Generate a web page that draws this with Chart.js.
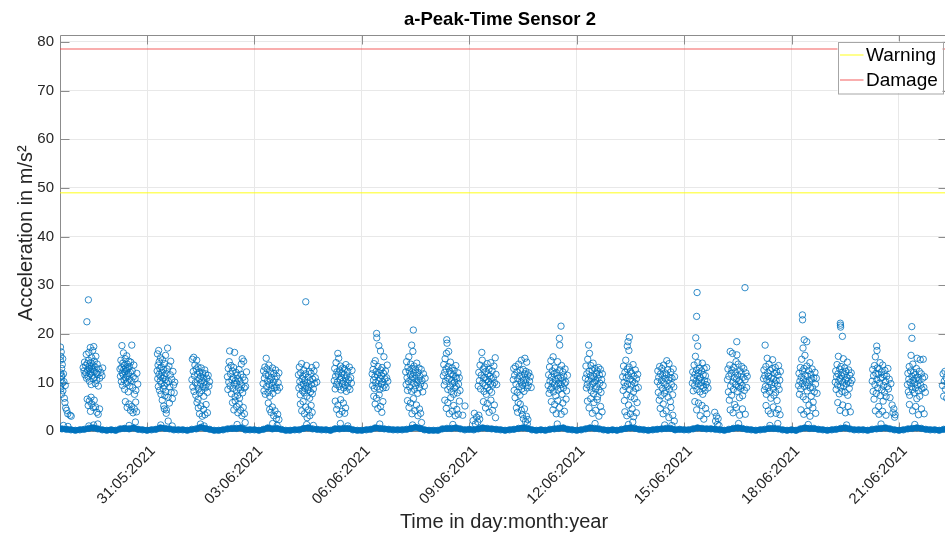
<!DOCTYPE html>
<html>
<head>
<meta charset="utf-8">
<script src="https://cdn.jsdelivr.net/npm/chart.js@4.4.0/dist/chart.umd.min.js"></script>
<style>
  html, body { margin: 0; padding: 0; background: #fff; overflow: hidden; }
  #wrap { width: 945px; height: 539px; overflow: hidden; }
  canvas { display: block; }
</style>
</head>
<body>
<div id="wrap"><canvas id="c" width="1000" height="539"></canvas></div>
<script>
// Time axis: days after 28.05.2021 00:00
const xStart = 0.57;
const xEnd = 25.37;
const tickDays = [3, 6, 9, 12, 15, 18, 21, 24];
const tickLabels = ['31:05:2021', '03:06:2021', '06:06:2021', '09:06:2021',
                    '12:06:2021', '15:06:2021', '18:06:2021', '21:06:2021'];
const yTickValues = [0, 10, 20, 30, 40, 50, 60, 70, 80];

// Alarm thresholds in m/s^2
const warningLevel = 49;
const damageLevel = 78.5;

// Peak acceleration bursts per day: [hour of day, m/s^2]
const may28 = [[14.0,17.3],[14.2,15.4],[13.9,14.6],[14.5,16.3],[14.8,12.9],[14.1,12.0],[15.0,11.4],[14.4,10.6],[15.3,9.9],[14.0,9.1],[15.6,8.3],[14.7,7.6],[16.0,11.8],[15.2,13.7],[16.3,10.2],[14.3,8.7],[16.6,6.8],[17.0,5.9],[17.5,4.8],[18.2,4.3],[18.9,3.6],[20.5,3.3],[21.2,3.1],[16.0,1.2],[19.0,1.0],[15.5,14.9],[14.6,11.2],[17.2,9.4]];
const may29 = [[5.2,13.1],[5.8,12.4],[6.1,14.2],[6.4,11.6],[6.8,13.5],[7.0,12.0],[7.3,15.8],[7.5,10.9],[7.7,22.5],[7.9,13.9],[8.2,12.6],[8.5,11.2],[8.7,27.0],[8.8,14.6],[9.0,16.2],[9.2,12.9],[9.4,10.3],[9.6,13.4],[9.8,11.8],[10.0,17.2],[10.2,12.2],[10.4,14.1],[10.6,9.6],[10.8,13.0],[11.0,15.1],[11.2,11.5],[11.4,12.7],[11.6,16.6],[11.8,13.6],[12.0,10.8],[12.3,17.4],[12.5,12.3],[12.7,14.4],[12.9,11.1],[13.2,13.2],[13.4,9.8],[13.7,15.4],[14.0,12.0],[14.3,10.5],[14.6,13.8],[15.0,11.7],[15.4,9.3],[15.8,12.8],[16.3,10.9],[17.0,12.1],[17.8,11.4],[18.3,13.0],[7.9,6.6],[8.6,5.3],[9.3,6.2],[10.1,4.1],[11.0,5.6],[11.9,4.9],[12.6,6.4],[13.5,5.0],[14.4,3.9],[15.3,3.5],[16.2,4.6],[10.5,7.0],[12.2,1.3],[9.0,1.1],[15.0,1.5]];
const may30 = [[5.9,12.8],[6.2,11.3],[6.5,14.6],[6.8,10.2],[7.0,13.1],[7.2,17.6],[7.4,12.0],[7.6,9.4],[7.8,14.0],[8.0,11.6],[8.2,16.1],[8.4,12.7],[8.6,10.6],[8.8,13.5],[9.0,8.6],[9.2,12.2],[9.4,14.9],[9.6,11.0],[9.8,13.0],[10.0,9.9],[10.2,12.5],[10.4,15.5],[10.6,11.4],[10.8,13.8],[11.0,10.1],[11.2,12.9],[11.4,8.1],[11.6,11.8],[11.8,14.4],[12.0,10.7],[12.2,13.3],[12.5,9.3],[12.8,12.1],[13.1,14.2],[13.4,10.4],[13.8,17.7],[14.1,12.4],[14.4,9.0],[14.8,11.2],[15.2,13.6],[15.6,7.6],[16.0,10.8],[16.5,8.4],[17.2,11.9],[17.8,9.7],[9.5,6.1],[10.7,4.9],[11.9,5.6],[12.9,4.3],[13.7,5.1],[14.6,3.8],[15.5,4.6],[16.4,6.0],[17.0,4.0],[12.0,1.2],[16.2,1.9]];
const may31 = [[6.8,12.4],[7.0,15.9],[7.2,10.8],[7.4,13.6],[7.6,9.2],[7.8,16.6],[8.0,11.7],[8.2,14.3],[8.4,8.4],[8.6,12.9],[8.8,10.3],[9.0,15.1],[9.2,11.2],[9.4,7.6],[9.6,13.2],[9.8,9.8],[10.0,12.1],[10.2,6.4],[10.4,14.7],[10.6,10.9],[10.8,8.8],[11.0,12.6],[11.2,5.2],[11.4,11.4],[11.6,9.4],[11.8,13.9],[12.0,7.3],[12.2,10.6],[12.4,15.6],[12.6,8.1],[12.8,11.9],[13.0,4.4],[13.2,9.9],[13.5,12.8],[13.8,17.1],[14.1,7.0],[14.4,10.2],[14.7,13.4],[15.0,5.8],[15.3,9.1],[15.6,11.6],[15.9,14.4],[16.2,8.0],[16.6,10.7],[17.0,6.7],[17.4,12.3],[17.8,9.5],[18.2,7.9],[18.6,10.1],[12.9,3.7],[11.6,4.6],[14.2,2.1],[9.2,1.3],[16.9,1.1]];
const jun01 = [[6.1,10.6],[6.4,14.8],[6.7,9.1],[7.0,12.3],[7.3,15.2],[7.5,8.2],[7.8,11.4],[8.1,13.6],[8.4,10.0],[8.7,7.4],[9.0,12.8],[9.3,14.6],[9.6,9.5],[9.9,11.7],[10.2,13.2],[10.5,8.7],[10.8,10.8],[11.1,12.2],[11.4,7.9],[11.7,9.9],[12.0,11.3],[12.3,13.0],[12.6,8.4],[12.9,10.4],[13.2,12.0],[13.5,9.2],[13.8,11.0],[14.1,7.2],[14.4,10.1],[14.7,12.6],[15.0,8.9],[15.3,11.8],[15.7,9.6],[16.1,10.9],[16.5,8.0],[17.0,11.5],[17.5,9.3],[17.9,10.2],[9.5,5.9],[10.4,4.8],[11.2,3.6],[12.1,5.2],[13.0,3.1],[13.9,4.5],[14.8,3.4],[15.6,5.5],[16.5,3.8],[11.8,1.5],[14.3,1.1],[10.2,6.6]];
const jun02 = [[5.9,11.2],[6.2,8.6],[6.5,12.9],[6.8,10.1],[7.1,14.3],[7.4,16.5],[7.7,9.3],[8.0,11.8],[8.3,13.5],[8.6,7.7],[8.9,10.6],[9.2,12.4],[9.5,8.8],[9.8,11.0],[10.1,13.1],[10.4,9.7],[10.7,16.2],[11.0,7.1],[11.3,10.4],[11.6,12.1],[11.9,8.3],[12.2,9.9],[12.5,11.5],[12.8,7.4],[13.1,10.8],[13.4,9.0],[13.7,12.7],[14.0,6.8],[14.3,10.3],[14.6,8.5],[14.9,11.7],[15.2,13.8],[15.5,9.5],[15.8,14.9],[16.1,7.9],[16.4,11.1],[16.8,14.4],[17.2,8.9],[17.6,10.5],[18.1,9.2],[18.7,12.2],[9.3,5.9],[10.2,4.4],[11.1,6.2],[12.0,5.1],[12.9,3.8],[13.8,5.6],[14.7,4.3],[15.6,3.2],[16.5,4.9],[17.3,3.6],[12.4,1.4],[17.8,1.8]];
const jun03 = [[5.8,9.8],[6.1,12.4],[6.4,8.3],[6.7,10.9],[7.0,13.2],[7.3,7.6],[7.6,11.7],[7.9,15.0],[8.2,9.2],[8.5,12.8],[8.8,10.3],[9.1,8.0],[9.4,11.4],[9.7,13.6],[10.0,9.6],[10.3,7.2],[10.6,10.6],[10.9,12.2],[11.2,8.7],[11.5,11.0],[11.8,9.4],[12.1,13.0],[12.4,7.8],[12.7,10.1],[13.0,11.9],[13.4,8.9],[13.8,10.7],[14.2,12.6],[14.6,9.1],[15.0,11.3],[15.4,8.4],[15.9,10.0],[16.4,12.0],[16.9,9.0],[9.3,5.8],[10.2,4.5],[11.1,3.9],[12.0,5.0],[12.9,3.2],[13.8,4.2],[14.7,2.6],[15.6,3.5],[16.4,2.4],[12.2,1.6],[15.2,1.2]];
const jun04 = [[5.5,11.6],[5.8,8.9],[6.1,13.2],[6.4,10.2],[6.7,7.5],[7.0,12.0],[7.3,9.4],[7.6,13.9],[7.9,10.8],[8.2,8.3],[8.5,11.3],[8.8,9.7],[9.1,12.6],[9.4,7.9],[9.7,10.5],[10.0,8.8],[10.4,26.6],[10.3,11.8],[10.6,9.3],[10.9,13.5],[11.2,7.2],[11.5,10.0],[11.8,8.5],[12.1,11.1],[12.4,9.0],[12.7,12.3],[13.0,6.8],[13.3,10.4],[13.6,8.1],[13.9,11.9],[14.2,9.6],[14.5,13.1],[14.8,7.7],[15.1,10.7],[15.5,8.7],[15.9,12.4],[16.3,9.8],[16.8,11.0],[17.3,13.6],[17.8,10.1],[6.8,5.6],[7.7,4.2],[8.6,6.1],[9.5,3.6],[10.4,5.0],[11.3,2.8],[12.2,4.4],[13.1,3.2],[14.0,5.3],[14.7,3.9],[11.0,1.4],[15.5,1.2]];
const jun05 = [[5.5,10.4],[5.8,12.9],[6.1,8.7],[6.4,11.3],[6.7,14.1],[7.0,9.6],[7.3,12.2],[7.6,10.1],[7.9,16.0],[8.2,11.7],[8.5,15.0],[8.8,9.2],[9.1,12.6],[9.4,10.7],[9.7,13.4],[10.0,8.5],[10.3,11.1],[10.6,12.0],[10.9,9.8],[11.2,13.0],[11.5,10.3],[11.8,8.9],[12.1,11.6],[12.4,12.8],[12.7,9.5],[13.0,10.9],[13.3,13.7],[13.6,8.2],[13.9,11.4],[14.2,10.0],[14.5,12.3],[14.8,9.1],[15.2,10.6],[15.6,13.2],[16.0,8.6],[16.5,11.0],[17.0,9.9],[17.4,12.5],[6.2,6.2],[7.1,4.5],[8.0,5.4],[8.9,3.5],[9.8,6.5],[10.7,4.1],[11.6,5.8],[12.5,3.7],[13.1,4.8],[9.6,1.6],[14.6,1.1]];
const jun06 = [[6.9,11.8],[7.2,9.4],[7.5,12.7],[7.8,10.5],[8.1,13.9],[8.4,8.8],[8.7,11.2],[9.0,14.5],[9.3,10.0],[9.6,12.3],[9.9,20.1],[10.0,19.2],[10.2,9.1],[10.5,11.6],[10.8,13.3],[11.1,10.4],[11.4,17.6],[11.6,12.0],[11.9,8.6],[12.2,10.9],[12.5,16.5],[12.7,12.6],[13.0,9.7],[13.3,11.4],[13.6,13.1],[13.9,10.2],[14.2,8.9],[14.5,11.9],[14.8,15.3],[15.1,9.5],[15.4,10.8],[15.8,12.4],[16.2,9.0],[16.6,11.0],[17.0,13.6],[17.4,10.3],[8.0,7.2],[8.9,5.6],[9.8,6.8],[10.7,4.7],[11.6,7.5],[12.5,5.1],[13.4,3.9],[14.1,6.1],[12.0,1.5]];
const jun07 = [[5.4,12.2],[5.7,9.6],[6.0,14.3],[6.3,11.0],[6.6,8.4],[6.9,13.1],[7.2,10.2],[7.5,15.3],[7.8,12.4],[8.1,9.1],[8.4,11.6],[8.7,13.8],[9.0,10.7],[9.4,17.7],[9.3,8.2],[9.6,12.9],[9.9,11.2],[10.2,16.4],[10.5,20.8],[10.4,9.9],[10.7,12.0],[11.0,13.4],[11.3,8.6],[11.6,10.8],[11.9,12.6],[12.2,9.4],[12.5,11.5],[12.8,14.0],[13.1,10.0],[13.4,7.8],[13.7,12.1],[14.0,10.5],[14.3,13.0],[14.6,8.9],[15.0,11.3],[15.4,9.7],[15.8,12.7],[16.3,10.4],[16.8,8.1],[17.3,11.8],[17.9,9.3],[18.4,10.9],[6.6,6.3],[7.6,4.9],[8.6,5.8],[9.6,3.6],[10.6,6.7],[11.6,4.2],[12.6,5.4],[13.6,3.2],[14.6,4.6],[15.4,3.7],[10.0,1.3],[16.0,1.8]];
const jun08 = [[6.6,11.4],[6.9,13.7],[7.2,9.5],[7.5,12.1],[7.8,14.9],[8.1,10.3],[8.4,12.8],[8.7,16.0],[8.9,18.8],[9.1,18.1],[9.3,11.0],[9.6,8.6],[9.9,13.3],[10.2,16.4],[10.5,10.7],[10.8,12.4],[11.1,9.1],[11.4,14.2],[11.7,11.8],[12.0,8.2],[12.3,10.5],[12.6,13.0],[12.9,9.8],[13.2,11.6],[13.5,7.6],[13.8,12.5],[14.1,10.1],[14.4,8.9],[14.7,11.2],[15.0,13.5],[15.3,9.3],[15.6,10.9],[16.0,7.9],[16.4,12.0],[16.8,9.7],[17.3,11.0],[17.8,8.4],[7.6,6.4],[8.6,4.7],[9.6,5.9],[10.6,3.6],[11.6,6.9],[12.6,4.1],[13.6,5.3],[14.6,3.2],[15.6,4.5],[16.6,3.5],[17.4,6.2],[19.6,3.3],[21.1,5.2],[13.0,1.4]];
const jun09 = [[2.6,2.2],[3.4,3.7],[4.1,1.5],[4.9,2.9],[5.7,1.9],[6.4,3.3],[7.0,2.5],[6.0,9.3],[6.4,12.1],[6.8,10.4],[7.2,13.6],[7.6,8.7],[8.0,11.5],[8.4,16.2],[8.7,14.6],[9.0,9.9],[9.3,12.8],[9.6,10.9],[9.9,8.2],[10.2,13.2],[10.5,11.1],[10.8,9.4],[11.1,12.3],[11.4,7.6],[11.7,10.6],[12.0,13.9],[12.3,9.0],[12.6,11.8],[12.9,10.2],[13.2,12.7],[13.5,8.4],[13.8,11.3],[14.1,9.7],[14.4,14.1],[14.7,10.8],[15.0,8.0],[15.3,12.4],[15.7,9.5],[16.1,11.0],[16.5,13.4],[16.9,10.0],[17.4,15.1],[17.9,11.7],[18.4,9.6],[9.5,6.1],[10.9,4.8],[12.1,5.7],[13.3,3.9],[14.5,6.4],[15.6,4.3],[16.8,5.4],[17.6,2.8]];
const jun10 = [[5.5,10.6],[5.8,12.9],[6.1,8.4],[6.4,11.5],[6.7,6.9],[7.0,13.3],[7.3,9.7],[7.6,4.8],[7.9,12.2],[8.2,8.0],[8.5,10.8],[8.8,5.9],[9.1,13.8],[9.4,9.2],[9.7,11.4],[10.0,7.4],[10.3,12.5],[10.6,10.1],[10.9,14.6],[11.2,8.7],[11.5,11.0],[11.8,9.5],[12.1,12.7],[12.4,10.4],[12.7,8.2],[13.0,11.8],[13.3,15.0],[13.6,9.9],[13.9,12.3],[14.2,10.7],[14.5,14.2],[14.8,8.9],[15.1,11.6],[15.5,9.4],[15.9,12.0],[16.4,10.3],[16.9,11.2],[17.5,9.0],[10.2,5.6],[10.9,4.3],[11.6,3.4],[12.3,2.6],[13.0,4.6],[13.7,2.0],[14.3,3.1],[14.9,1.5],[15.3,2.4],[8.4,3.9]];
const jun11 = [[4.9,9.4],[5.2,11.6],[5.5,7.8],[5.8,13.2],[6.1,10.3],[6.4,8.6],[6.7,14.5],[7.0,11.1],[7.3,9.0],[7.6,12.4],[7.9,10.0],[8.2,15.3],[8.5,8.1],[8.8,11.8],[9.1,9.7],[9.4,13.0],[9.7,10.6],[10.0,7.3],[10.3,12.1],[10.6,9.3],[10.9,11.4],[11.2,14.3],[11.5,8.5],[11.8,10.9],[12.1,9.9],[12.4,19.1],[12.6,17.7],[12.7,12.6],[13.0,8.8],[13.5,21.6],[13.3,11.0],[13.6,9.6],[13.9,13.5],[14.2,7.6],[14.5,10.4],[14.8,12.2],[15.1,8.9],[15.4,11.3],[15.8,9.8],[16.2,12.8],[16.7,10.1],[17.2,8.3],[17.8,11.5],[7.0,6.1],[8.1,4.4],[9.2,5.5],[10.3,3.6],[11.4,6.3],[12.5,4.9],[13.6,3.5],[14.7,5.8],[15.8,4.1],[16.9,6.6],[11.0,1.5]];
const jun12 = [[5.9,10.9],[6.2,13.4],[6.5,8.9],[6.8,11.8],[7.1,9.6],[7.4,14.8],[7.7,10.5],[8.0,17.7],[8.3,12.3],[8.6,16.0],[8.9,9.1],[9.2,11.4],[9.5,13.5],[9.8,8.3],[10.1,10.8],[10.4,12.6],[10.7,9.8],[11.0,14.0],[11.3,7.7],[11.6,11.2],[11.9,10.1],[12.2,12.9],[12.5,8.7],[12.8,10.4],[13.1,11.9],[13.4,9.2],[13.7,12.4],[14.0,7.1],[14.3,10.9],[14.6,13.1],[14.9,8.5],[15.2,11.6],[15.5,9.9],[15.9,12.7],[16.3,8.0],[16.7,10.6],[17.2,11.8],[17.7,9.4],[7.2,6.2],[8.3,4.8],[9.4,6.7],[10.5,3.7],[11.6,5.9],[12.7,4.3],[13.8,6.5],[14.9,3.1],[16.0,5.1],[17.0,4.0],[12.3,1.6]];
const jun13 = [[6.8,11.2],[7.1,8.4],[7.4,13.4],[7.7,10.0],[8.0,6.3],[8.3,12.1],[8.6,9.2],[8.9,14.6],[9.2,11.0],[9.5,7.5],[9.9,17.5],[9.8,12.8],[10.1,9.7],[10.4,18.4],[10.5,11.5],[10.8,5.4],[11.0,16.6],[11.3,19.3],[11.1,13.2],[11.4,8.6],[11.7,10.7],[12.0,12.3],[12.3,7.1],[12.6,9.5],[12.9,11.9],[13.2,4.6],[13.5,10.3],[13.8,13.7],[14.1,8.1],[14.4,11.3],[14.7,6.7],[15.0,9.9],[15.3,12.6],[15.7,8.8],[16.1,10.8],[16.5,5.9],[16.9,11.7],[17.3,9.0],[8.3,4.0],[9.6,3.2],[12.0,3.6],[14.2,3.0],[16.0,3.8],[10.7,1.4],[13.6,1.9]];
const jun14 = [[6.1,10.2],[6.4,12.4],[6.7,8.0],[7.0,11.1],[7.3,6.4],[7.6,13.3],[7.9,9.5],[8.2,11.8],[8.5,7.3],[8.8,10.4],[9.1,12.9],[9.4,8.8],[9.7,11.4],[10.0,5.6],[10.3,13.6],[10.6,9.9],[10.9,7.8],[11.2,12.0],[11.5,10.8],[11.8,8.4],[12.1,11.7],[12.4,14.5],[12.7,9.2],[13.0,12.6],[13.3,7.0],[13.6,10.5],[13.9,13.9],[14.2,8.7],[14.5,11.0],[14.8,6.1],[15.1,12.2],[15.5,9.6],[15.9,10.9],[16.3,7.5],[16.7,12.8],[17.1,9.1],[17.6,11.2],[8.0,4.7],[9.9,3.6],[12.0,4.2],[13.8,2.8],[15.2,4.9],[16.4,3.3],[17.4,2.1],[15.8,1.2],[11.0,1.3]];
const jun15 = [[5.5,9.9],[5.8,12.2],[6.1,8.3],[6.4,10.9],[6.7,13.6],[7.0,9.4],[7.3,11.7],[7.6,15.4],[7.8,19.2],[8.0,10.3],[8.3,12.6],[8.4,23.6],[8.7,28.5],[8.6,8.6],[8.9,11.3],[9.1,17.5],[9.2,14.1],[9.5,9.8],[9.8,12.0],[10.1,10.6],[10.4,13.0],[10.7,8.1],[11.0,11.0],[11.3,9.3],[11.6,12.4],[11.9,10.0],[12.2,14.0],[12.5,7.6],[12.8,11.6],[13.1,9.0],[13.4,12.9],[13.7,10.4],[14.0,8.4],[14.3,11.4],[14.7,9.6],[15.1,13.1],[15.5,10.2],[16.0,8.9],[7.2,6.1],[8.4,4.4],[9.6,5.8],[10.8,3.2],[12.0,5.3],[13.2,2.5],[14.4,4.7],[15.3,3.6],[20.5,3.9],[21.1,2.1],[21.7,3.1],[22.3,1.4],[22.8,2.6],[23.4,1.2]];
const jun16 = [[5.1,10.6],[5.4,12.8],[5.7,8.1],[6.0,11.3],[6.3,6.4],[6.6,13.6],[6.9,16.4],[7.2,9.3],[7.5,11.9],[7.8,7.4],[8.1,12.6],[8.4,16.0],[8.7,10.1],[9.0,8.6],[9.3,13.1],[9.6,11.0],[9.9,5.5],[10.2,12.2],[10.5,9.6],[10.8,14.3],[11.1,10.7],[11.3,18.4],[11.4,15.7],[11.6,8.2],[11.9,11.5],[12.2,13.8],[12.5,9.1],[12.8,10.4],[13.1,6.9],[13.4,12.4],[13.7,10.0],[14.0,8.8],[14.3,11.8],[14.6,13.3],[14.9,9.4],[15.2,7.3],[15.6,11.1],[16.0,12.9],[16.4,8.4],[16.8,29.5],[16.9,10.6],[17.4,12.0],[17.9,9.0],[18.3,11.3],[6.9,4.4],[8.8,3.8],[11.0,4.9],[13.2,3.3],[15.1,4.6],[17.0,3.5],[12.5,1.6]];
const jun17 = [[5.2,10.8],[5.5,12.6],[5.8,8.5],[6.1,11.4],[6.3,17.7],[6.5,9.2],[6.8,13.3],[7.1,7.6],[7.4,10.6],[7.7,15.0],[8.0,12.0],[8.3,9.0],[8.6,11.3],[8.9,13.8],[9.2,8.2],[9.5,10.2],[9.8,12.5],[10.1,6.8],[10.4,11.0],[10.7,9.6],[11.0,12.9],[11.3,14.7],[11.6,8.8],[11.9,10.8],[12.2,7.4],[12.5,11.9],[12.8,9.9],[13.1,13.1],[13.4,8.0],[13.7,10.4],[14.0,12.2],[14.3,6.3],[14.6,9.4],[14.9,11.5],[15.3,13.5],[15.7,8.6],[16.1,10.5],[16.5,12.3],[6.9,5.3],[8.4,4.2],[10.0,3.6],[11.8,5.0],[13.6,3.7],[15.0,4.5],[16.3,3.4],[9.5,1.2],[14.8,1.6]];
const jun18 = [[4.7,9.4],[5.0,11.9],[5.3,7.6],[5.6,10.3],[5.9,13.1],[6.2,8.7],[6.5,11.1],[6.8,14.8],[7.1,9.8],[7.3,23.9],[7.4,22.9],[7.4,12.4],[7.7,17.1],[7.8,7.1],[8.1,10.7],[8.5,18.8],[8.4,12.9],[8.7,9.2],[9.0,15.6],[9.3,11.5],[9.6,6.5],[9.9,10.0],[10.2,18.4],[10.3,13.4],[10.5,8.3],[10.8,11.3],[11.1,9.5],[11.4,12.5],[11.7,5.4],[12.0,10.4],[12.3,14.1],[12.6,8.9],[12.9,11.7],[13.2,7.2],[13.5,10.8],[13.8,12.8],[14.1,9.0],[14.5,6.0],[14.9,11.0],[15.3,8.1],[15.7,12.1],[16.1,9.7],[16.6,10.9],[17.1,7.8],[6.3,4.4],[8.2,3.5],[10.4,4.1],[12.4,3.1],[14.3,4.8],[16.2,3.7],[11.2,1.4]];
const jun19 = [[5.3,10.1],[5.6,12.4],[5.9,8.6],[6.2,11.2],[6.5,13.7],[6.8,9.5],[7.1,11.8],[7.4,15.4],[7.7,10.4],[8.0,7.7],[8.3,12.8],[8.7,22.2],[8.8,21.8],[8.9,21.4],[8.6,10.9],[8.9,9.1],[9.2,13.3],[9.5,11.4],[9.8,8.2],[10.1,19.5],[10.1,12.1],[10.4,10.0],[10.7,14.9],[11.0,9.3],[11.3,11.6],[11.6,13.0],[11.9,8.0],[12.2,10.6],[12.5,12.3],[12.8,9.7],[13.1,11.0],[13.4,14.2],[13.7,7.4],[14.0,10.3],[14.3,12.6],[14.7,8.8],[15.1,11.5],[15.5,9.9],[16.0,12.0],[16.5,10.5],[7.0,5.9],[8.5,4.3],[10.3,5.4],[12.1,3.8],[13.9,5.1],[15.4,4.0],[12.9,1.3]];
const jun20 = [[6.1,10.3],[6.4,12.7],[6.7,8.2],[7.0,11.4],[7.3,6.6],[7.6,13.5],[7.9,9.6],[8.2,15.3],[8.5,11.9],[8.8,7.8],[9.1,17.5],[9.3,16.6],[9.2,10.6],[9.5,13.0],[9.8,8.9],[10.1,11.7],[10.4,5.1],[10.7,12.8],[11.0,9.9],[11.3,14.1],[11.6,7.3],[11.9,10.9],[12.2,12.2],[12.5,8.5],[12.8,11.1],[13.1,13.6],[13.4,6.2],[13.7,9.4],[14.0,11.6],[14.3,8.0],[14.6,12.5],[15.0,10.2],[15.4,7.1],[15.8,11.3],[16.2,9.2],[16.6,12.9],[17.0,8.7],[17.5,10.7],[18.0,6.9],[18.6,9.8],[19.4,5.4],[20.0,3.8],[20.6,4.6],[21.1,2.9],[21.4,3.4],[8.2,4.2],[10.6,3.5],[13.0,4.1],[15.3,3.3],[12.0,1.5]];
const jun21 = [[5.7,9.6],[6.0,11.9],[6.3,8.1],[6.6,10.7],[6.9,13.3],[7.2,7.4],[7.5,10.0],[7.8,12.4],[8.1,15.6],[8.4,9.2],[8.6,21.5],[8.7,19.1],[8.7,11.3],[9.0,8.6],[9.3,13.8],[9.6,10.5],[9.9,12.1],[10.2,7.9],[10.5,9.9],[10.8,11.6],[11.1,8.9],[11.4,10.8],[11.7,12.9],[12.0,6.7],[12.2,15.0],[12.4,9.6],[12.7,11.1],[13.0,8.3],[13.3,10.4],[13.6,12.3],[13.9,7.2],[14.3,14.7],[14.6,9.5],[15.0,11.8],[15.4,8.7],[15.9,10.9],[16.3,14.8],[16.7,9.0],[17.2,11.2],[17.7,8.0],[7.0,5.5],[9.1,4.2],[11.2,5.1],[13.1,3.4],[15.1,4.6],[16.9,3.6],[10.6,1.4]];
const jun22 = [[5.2,9.4],[5.6,11.8],[6.0,7.2],[6.4,10.3],[6.8,12.3],[7.2,8.6],[7.6,11.0],[8.0,6.8],[8.4,9.9],[8.8,12.0],[9.2,8.1],[9.6,10.6]];

const dailyBursts = [may28, may29, may30, may31, jun01, jun02, jun03, jun04, jun05,
                     jun06, jun07, jun08, jun09, jun10, jun11, jun12, jun13, jun14,
                     jun15, jun16, jun17, jun18, jun19, jun20, jun21, jun22];

// Idle level, one reading every 3 h per day (00, 03, ... 21 h)
const baselineLevels = [
  [0.3,0.2,0.3,0.5,0.6,0.5,0.4,0.3], [0.2,0.3,0.4,0.6,0.7,0.5,0.3,0.2],
  [0.3,0.2,0.5,0.6,0.5,0.7,0.4,0.3], [0.2,0.3,0.4,0.7,0.6,0.5,0.3,0.3],
  [0.3,0.2,0.4,0.5,0.8,0.6,0.4,0.2], [0.2,0.3,0.5,0.6,0.6,0.7,0.3,0.3],
  [0.3,0.2,0.4,0.7,0.5,0.6,0.4,0.2], [0.2,0.3,0.3,0.6,0.7,0.5,0.4,0.3],
  [0.3,0.2,0.5,0.5,0.6,0.6,0.3,0.2], [0.2,0.3,0.4,0.7,0.6,0.5,0.4,0.3],
  [0.3,0.3,0.4,0.6,0.8,0.6,0.3,0.2], [0.2,0.2,0.5,0.6,0.6,0.7,0.5,0.3],
  [0.4,0.3,0.5,0.7,0.6,0.5,0.4,0.3], [0.2,0.3,0.4,0.6,0.7,0.6,0.3,0.2],
  [0.3,0.2,0.4,0.5,0.6,0.7,0.4,0.3], [0.2,0.3,0.5,0.7,0.6,0.5,0.3,0.2],
  [0.3,0.2,0.4,0.6,0.7,0.6,0.4,0.3], [0.2,0.3,0.4,0.5,0.6,0.6,0.3,0.4],
  [0.3,0.3,0.5,0.7,0.6,0.5,0.5,0.4], [0.3,0.2,0.4,0.6,0.7,0.6,0.4,0.3],
  [0.2,0.3,0.4,0.6,0.6,0.5,0.3,0.2], [0.3,0.2,0.5,0.7,0.6,0.6,0.4,0.3],
  [0.2,0.3,0.4,0.6,0.7,0.5,0.3,0.3], [0.3,0.2,0.4,0.5,0.6,0.7,0.5,0.3],
  [0.2,0.3,0.5,0.6,0.7,0.6,0.4,0.3], [0.3,0.2,0.4,0.6,0.6,0.5,0.4,0.3]
];

// ---- styling ----
const textColor = '#262626';
const axisColor = '#8c8c8c';
const gridColor = '#e8e8e8';
const markerColor = 'rgba(0,114,189,0.9)';
const bandColor = '#0072BD';
Chart.defaults.font.family = '"Liberation Sans", Arial, Helvetica, sans-serif';

const burstPoints = dailyBursts.flatMap((day, d) => day.map(([h, v]) => ({ x: d + h / 24, y: v })));
const baselinePoints = baselineLevels.flatMap((row, d) => row.map((v, i) => ({ x: d + (i * 3) / 24, y: v })));

// Axes box with inward tick marks (drawn below the data)
const axesFrame = {
  id: 'axesFrame',
  beforeDatasetsDraw(chart) {
    const { ctx, chartArea: a, scales: { x, y } } = chart;
    const L = Math.round(a.left) + 0.5, R = Math.round(a.right) - 0.5;
    const T = Math.round(a.top) + 0.5, B = Math.round(a.bottom) + 0.5;
    const len = 9;
    ctx.save();
    ctx.strokeStyle = axisColor;
    ctx.lineWidth = 1;
    ctx.beginPath();
    ctx.rect(L, T, R - L, B - T);
    y.ticks.forEach(t => {
      const py = Math.round(y.getPixelForValue(t.value)) + 0.5;
      ctx.moveTo(L, py); ctx.lineTo(L + len, py);
      ctx.moveTo(R, py); ctx.lineTo(R - len, py);
    });
    x.ticks.forEach(t => {
      const px = Math.round(x.getPixelForValue(t.value)) + 0.5;
      ctx.moveTo(px, T); ctx.lineTo(px, T + len);
      ctx.moveTo(px, B); ctx.lineTo(px, B - len);
    });
    ctx.stroke();
    ctx.restore();
  }
};

// Boxed legend in the upper right corner of the plot area
const legendBox = {
  id: 'legendBox',
  afterDraw(chart) {
    const { ctx, chartArea: a } = chart;
    const items = chart.data.datasets.filter(ds => ds.inLegend);
    const bx = a.right - 110.5, by = a.top + 6.5, bw = 105, bh = 51.5;
    ctx.save();
    ctx.fillStyle = '#ffffff';
    ctx.fillRect(bx, by, bw, bh);
    ctx.strokeStyle = '#a6a6a6';
    ctx.lineWidth = 1;
    ctx.strokeRect(Math.round(bx) + 0.5, Math.round(by) + 0.5, bw, bh);
    ctx.font = '19px "Liberation Sans", Arial, sans-serif';
    ctx.textBaseline = 'middle';
    ctx.textAlign = 'left';
    items.forEach((ds, i) => {
      const ly = by + 13.5 + i * 25;
      ctx.strokeStyle = ds.borderColor;
      ctx.lineWidth = ds.borderWidth;
      ctx.beginPath();
      ctx.moveTo(bx + 2.5, ly); ctx.lineTo(bx + 26, ly);
      ctx.stroke();
      ctx.fillStyle = '#000000';
      ctx.fillText(ds.label, bx + 28.5, ly + 1);
    });
    ctx.restore();
  }
};

new Chart(document.getElementById('c'), {
  type: 'scatter',
  data: {
    datasets: [
      {
        label: 'Warning', inLegend: true, showLine: true,
        data: [{ x: xStart, y: warningLevel }, { x: xEnd, y: warningLevel }],
        borderColor: 'rgba(255,255,0,0.6)', borderWidth: 1.5, pointRadius: 0
      },
      {
        label: 'Damage', inLegend: true, showLine: true,
        data: [{ x: xStart, y: damageLevel }, { x: xEnd, y: damageLevel }],
        borderColor: 'rgba(240,60,60,0.55)', borderWidth: 1.5, pointRadius: 0
      },
      {
        label: 'Peaks', data: burstPoints,
        pointRadius: 3.2, pointBorderWidth: 0.9,
        pointBorderColor: markerColor, pointBackgroundColor: 'rgba(0,0,0,0)',
        clip: { left: 0, top: 0, right: 0, bottom: false }
      },
      {
        label: 'Idle', data: baselinePoints, showLine: true,
        borderColor: bandColor, borderWidth: 6,
        pointRadius: 3.2, pointBorderWidth: 0.9,
        pointBorderColor: markerColor, pointBackgroundColor: 'rgba(0,0,0,0)',
        clip: { left: 0, top: 0, right: 0, bottom: false }
      }
    ]
  },
  options: {
    responsive: false,
    animation: false,
    devicePixelRatio: 1,
    events: [],
    layout: { padding: 0 },
    plugins: {
      legend: { display: false },
      tooltip: { enabled: false },
      title: {
        display: true, text: 'a-Peak-Time Sensor 2', color: '#000000',
        font: { size: 18.5, weight: 'bold' }, padding: { top: 8.5, bottom: 4.3 }
      }
    },
    scales: {
      x: {
        type: 'linear', min: xStart, max: xEnd,
        afterBuildTicks: s => { s.ticks = tickDays.map(v => ({ value: v })); },
        afterFit: s => { s.height = 107.7; },
        grid: { color: gridColor, drawTicks: false },
        border: { display: false },
        ticks: {
          autoSkip: false, minRotation: 45, maxRotation: 45, padding: 11, labelOffset: 6,
          color: textColor, font: { size: 15 },
          callback: v => { const i = tickDays.indexOf(v); return i >= 0 ? tickLabels[i] : ''; }
        },
        title: {
          display: true, text: 'Time in day:month:year', color: textColor,
          font: { size: 20 }, padding: { top: 0, bottom: 5 }
        }
      },
      y: {
        type: 'linear', min: 0, max: 81.4,
        afterBuildTicks: s => { s.ticks = yTickValues.map(v => ({ value: v })); },
        afterFit: s => { s.width = 60; },
        grid: { color: gridColor, drawTicks: false },
        border: { display: false },
        ticks: { padding: 6, color: textColor, font: { size: 15 } },
        title: {
          display: true, text: 'Acceleration in m/s²', color: textColor,
          font: { size: 20 }, padding: { top: 14, bottom: 0 }
        }
      },
      yRight: {
        type: 'linear', position: 'right', min: 0, max: 81.4,
        afterFit: s => { s.width = 52; },
        grid: { display: false },
        border: { display: false },
        ticks: { display: false }
      }
    }
  },
  plugins: [axesFrame, legendBox]
});
</script>
</body>
</html>
